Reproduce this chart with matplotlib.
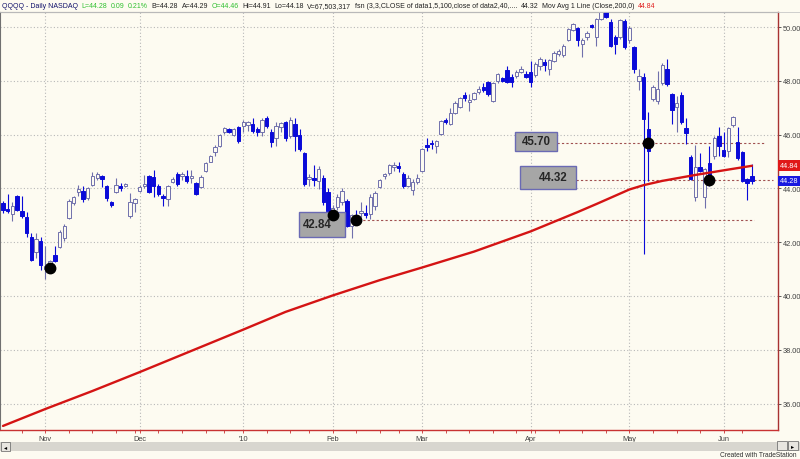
import matplotlib
matplotlib.use('Agg')
import matplotlib.pyplot as plt
import numpy as np
import pandas as pd
from matplotlib.patches import Rectangle

plt.rcParams['font.family'] = ['Liberation Sans', 'DejaVu Sans']

# ---------------- data ----------------
holidays = ['2009-11-26', '2009-12-25', '2010-01-01', '2010-01-18',
            '2010-02-15', '2010-04-02', '2010-05-31']
dates = [d for d in pd.bdate_range('2009-10-20', '2010-06-09')
         if d.strftime('%Y-%m-%d') not in holidays]

ohlc = [
    (43.45, 43.55, 43.10, 43.20), (43.25, 43.80, 43.10, 43.15), (43.05, 43.50, 42.80, 43.35),
    (43.72, 43.75, 43.15, 43.20), (43.15, 43.72, 42.90, 42.97), (42.95, 43.12, 42.20, 42.35),
    (42.20, 42.33, 41.30, 41.34), (41.63, 42.33, 41.40, 42.12), (42.05, 42.20, 40.95, 41.15),
    (41.00, 41.86, 40.63, 41.12), (41.10, 41.35, 40.95, 41.30), (41.52, 41.86, 41.25, 41.30),
    (41.82, 42.45, 41.78, 42.38), (42.15, 42.67, 42.05, 42.60), (42.90, 43.60, 42.85, 43.53),
    (43.46, 43.72, 43.40, 43.68), (43.87, 44.13, 43.72, 43.98), (43.90, 44.10, 43.50, 43.60),
    (43.64, 44.05, 43.58, 44.00), (44.13, 44.60, 44.10, 44.46), (44.38, 44.60, 44.30, 44.55),
    (44.45, 44.50, 44.05, 44.35), (44.10, 44.12, 43.55, 43.65), (43.48, 43.55, 43.30, 43.40),
    (43.87, 44.40, 43.82, 44.13), (44.10, 44.20, 43.90, 44.02), (44.10, 44.20, 44.05, 44.15),
    (42.97, 43.83, 42.90, 43.50), (43.46, 43.65, 43.12, 43.60), (43.90, 44.12, 43.85, 44.05),
    (44.10, 44.50, 44.00, 44.13), (44.46, 44.50, 43.82, 43.87), (44.42, 44.68, 43.68, 44.09),
    (44.09, 44.15, 43.70, 43.80), (43.72, 43.78, 43.35, 43.65), (43.60, 44.12, 43.35, 44.09),
    (44.24, 44.42, 44.20, 44.35), (44.53, 44.62, 44.10, 44.17), (44.46, 44.60, 44.30, 44.53),
    (44.46, 44.68, 44.20, 44.28), (44.40, 44.68, 44.20, 44.45), (44.20, 44.25, 43.75, 43.80),
    (44.05, 44.50, 44.00, 44.42), (44.65, 45.00, 44.60, 44.94), (45.00, 45.25, 44.98, 45.20),
    (45.35, 45.60, 45.20, 45.54), (45.58, 46.02, 45.55, 45.98), (46.10, 46.30, 46.02, 46.25),
    (46.20, 46.25, 46.05, 46.10), (46.00, 46.25, 45.95, 46.20), (46.28, 46.32, 45.70, 45.76),
    (46.32, 46.55, 46.10, 46.47), (46.35, 46.52, 46.15, 46.45), (46.40, 46.60, 46.05, 46.13),
    (46.20, 46.28, 45.95, 46.10), (46.10, 46.60, 45.95, 46.54), (46.62, 46.70, 46.25, 46.32),
    (46.10, 46.20, 45.55, 45.72), (45.87, 46.47, 45.58, 46.32), (46.28, 46.47, 46.10, 46.43),
    (46.47, 46.50, 45.76, 45.87), (45.95, 46.65, 45.87, 46.54), (46.40, 46.62, 45.39, 45.95),
    (46.00, 46.20, 45.40, 45.46), (45.30, 45.35, 44.10, 44.15), (44.35, 44.53, 44.09, 44.42),
    (44.40, 44.87, 44.09, 44.32), (44.28, 44.83, 43.98, 44.72), (44.40, 44.50, 43.40, 43.50),
    (43.85, 44.00, 42.95, 43.17), (43.12, 43.40, 43.00, 43.27), (43.31, 43.80, 43.20, 43.68),
    (43.50, 44.00, 43.40, 43.90), (43.55, 43.60, 42.55, 42.60), (42.60, 43.05, 42.16, 43.00),
    (42.92, 43.20, 42.75, 42.82), (43.08, 43.50, 42.95, 43.15), (43.10, 43.40, 42.90, 43.00),
    (43.05, 43.80, 42.85, 43.68), (43.35, 43.90, 43.20, 43.83), (44.05, 44.35, 44.00, 44.30),
    (44.46, 44.57, 44.35, 44.53), (44.57, 44.90, 44.50, 44.87), (44.80, 45.00, 44.65, 44.87),
    (44.85, 45.00, 44.60, 44.75), (44.53, 44.60, 44.00, 44.09), (44.10, 44.50, 44.05, 44.40),
    (43.95, 44.35, 43.75, 44.25), (44.25, 44.55, 44.15, 44.40), (44.65, 45.50, 44.60, 45.46),
    (45.60, 45.87, 45.40, 45.54), (45.70, 45.80, 45.45, 45.65), (45.58, 45.80, 45.30, 45.76),
    (46.02, 46.55, 45.98, 46.50), (46.52, 46.60, 46.40, 46.48), (46.40, 47.00, 46.35, 46.80),
    (46.80, 47.25, 46.75, 47.17), (47.03, 47.40, 46.98, 47.36), (47.47, 47.60, 47.25, 47.36),
    (47.22, 47.50, 46.88, 47.27), (47.32, 47.60, 47.28, 47.55), (47.58, 47.82, 47.50, 47.70),
    (47.77, 47.92, 47.58, 47.66), (47.95, 48.00, 47.45, 47.50), (47.25, 47.95, 47.20, 47.92),
    (48.00, 48.30, 47.92, 48.25), (48.10, 48.15, 47.95, 48.00), (48.40, 48.55, 47.90, 47.95),
    (48.14, 48.25, 47.77, 47.95), (48.18, 48.40, 48.10, 48.33), (48.33, 48.55, 48.28, 48.44),
    (48.25, 48.35, 48.10, 48.14), (48.33, 48.74, 47.77, 47.96), (48.22, 48.70, 48.15, 48.62),
    (48.55, 48.90, 48.40, 48.81), (48.70, 48.80, 48.35, 48.60), (48.44, 48.82, 48.20, 48.77),
    (48.74, 49.10, 48.70, 49.03), (49.00, 49.20, 48.92, 49.10), (48.96, 49.35, 48.90, 49.30),
    (49.52, 49.98, 49.48, 49.93), (49.90, 50.15, 49.85, 50.10), (49.96, 50.00, 49.30, 49.52),
    (49.37, 49.60, 48.90, 49.52), (49.63, 49.85, 49.50, 49.78), (50.07, 50.12, 49.95, 50.00),
    (49.63, 50.35, 49.30, 50.30), (50.30, 50.60, 50.25, 50.56), (50.56, 50.60, 50.35, 50.37),
    (50.20, 50.30, 49.25, 49.30), (49.63, 49.70, 49.00, 49.37), (49.63, 50.30, 49.55, 50.26),
    (50.22, 50.30, 49.20, 49.26), (49.50, 50.05, 49.40, 49.96), (49.25, 49.30, 48.30, 48.45),
    (48.00, 48.44, 47.66, 48.18), (48.14, 48.30, 41.55, 46.58), (46.20, 46.84, 44.27, 45.39),
    (47.32, 47.85, 47.25, 47.77), (47.25, 48.36, 47.15, 47.70), (47.90, 48.66, 47.85, 48.60),
    (48.44, 48.81, 47.80, 47.88), (47.50, 47.55, 46.40, 46.90), (47.03, 47.43, 46.10, 47.17),
    (47.47, 47.60, 46.40, 46.47), (46.25, 46.62, 45.65, 46.06), (45.17, 45.25, 44.30, 44.35),
    (43.68, 45.61, 43.53, 44.80), (44.80, 45.32, 44.60, 44.65), (43.68, 44.75, 43.27, 44.72),
    (44.94, 45.58, 44.10, 44.50), (45.20, 45.95, 45.10, 45.87), (45.95, 46.28, 45.20, 45.58),
    (45.43, 46.10, 45.15, 45.20), (45.40, 46.30, 45.17, 46.25), (46.36, 46.70, 46.30, 46.65),
    (45.72, 46.28, 45.05, 45.13), (45.35, 45.40, 44.25, 44.28), (44.35, 44.40, 43.57, 44.19),
    (44.46, 44.91, 44.18, 44.28),
]
opens = [r[0] for r in ohlc]
highs = [r[1] for r in ohlc]
lows = [r[2] for r in ohlc]
closes = [r[3] for r in ohlc]

ma_idx = [0, 9, 19, 29, 40, 51, 60, 70, 80, 89, 100, 112, 122, 126, 133, 136, 140, 147, 154, 159]
ma_vals = [35.17, 35.80, 36.47, 37.17, 37.96, 38.75, 39.41, 40.02, 40.59, 41.06,
           41.65, 42.40, 43.12, 43.42, 43.96, 44.12, 44.28, 44.50, 44.70, 44.84]

dot_idx = [10, 70, 75, 137, 150]
dot_vals = [41.04, 43.00, 42.84, 45.70, 44.32]

levels = [42.84, 45.70, 44.32]
level_labels = ['42.84', '45.70', '44.32']
yticks = [36, 38, 40, 42, 44, 46, 48, 50]

# ---------------- figure ----------------
W, H = 800, 460
BG = '#fdfbf1'
fig = plt.figure(figsize=(8, 4.6), dpi=100, facecolor=BG)

PX_PER_DAY = 4.71
X0 = 3.0
def px2i(px):
    return (px - X0) / PX_PER_DAY
def py2p(py):
    return 50 - (py - 28) / 26.9

ax_top, ax_bot, ax_right = 13, 431, 778
ax = fig.add_axes([0, 1 - ax_bot / H, ax_right / W, (ax_bot - ax_top) / H])
ax.set_facecolor(BG)
ax.set_xlim(px2i(0), px2i(ax_right))
ax.set_ylim(py2p(ax_bot), py2p(ax_top))

# grid
month_idx, month_lab = [], []
for k in range(1, len(dates)):
    if dates[k].month != dates[k - 1].month:
        month_idx.append(k)
        month_lab.append("'10" if dates[k].month == 1 else dates[k].strftime('%b'))
week_idx = [k for k in range(1, len(dates)) if dates[k].weekday() < dates[k - 1].weekday()]

for m in month_idx:
    ax.axvline(m, color='#b8b8b8', lw=0.8, ls=(0, (1, 2)), zorder=0)
for yv in yticks:
    ax.axhline(yv, color='#b8b8b8', lw=0.8, ls=(0, (1, 2)), zorder=0)

# candles
bw = 0.72
up_edge = '#7070ac'
dn_col = '#0a0ad8'
for k in range(len(opens)):
    o, h, l, c = opens[k], highs[k], lows[k], closes[k]
    up = c >= o
    col = up_edge if up else dn_col
    ax.vlines(k, l, h, color=col, lw=0.8, zorder=2)
    bot = min(o, c)
    hgt = max(abs(c - o), 0.05)
    ax.add_patch(Rectangle((k - bw / 2, bot), bw, hgt,
                           facecolor=BG if up else dn_col, edgecolor=col,
                           lw=0.7, zorder=3))

# moving average
ax.plot(ma_idx, ma_vals, color='#d41414', lw=1.7, zorder=4,
        solid_capstyle='round', solid_joinstyle='round')

# level lines
lvl_ranges = [(345, 754), (557, 765), (576, 773)]
for lv, (a, b) in zip(levels, lvl_ranges):
    ax.hlines(lv, px2i(a), px2i(b), color='#a05050', lw=0.8, ls=(0, (2, 2)), zorder=1)

# annotation boxes
boxes = [(299, 345, 213, 238, 317), (515, 557, 133, 152, 536), (520, 576, 167, 190, 553)]
for (x1, x2, y1, y2, tx), lab in zip(boxes, level_labels):
    ax.add_patch(Rectangle((px2i(x1), py2p(y2)), px2i(x2) - px2i(x1), py2p(y1) - py2p(y2),
                           facecolor='#a6a6a6', edgecolor='#6a6ab4', lw=1.0, zorder=5))
    ax.text(px2i(tx), py2p((y1 + y2) / 2), lab, ha='center', va='center',
            fontsize=8.3, fontweight='bold', color='#262626', zorder=6)

# dots
ax.plot(dot_idx, dot_vals, 'o', color='black', ms=7.5, zorder=7)

# axes styling
for s in ['top', 'left']:
    ax.spines[s].set_color('#707070')
    ax.spines[s].set_linewidth(0.8)
ax.spines['right'].set_color('#a83232')
ax.spines['bottom'].set_color('#c83232')
ax.spines['right'].set_linewidth(1.0)
ax.spines['bottom'].set_linewidth(1.0)

ax.yaxis.tick_right()
ax.set_yticks(yticks)
ax.set_yticklabels([f'{v:.2f}' for v in yticks])
ax.tick_params(axis='y', labelsize=5.3, colors='#404040', length=2, width=0.6, pad=1.5)
ax.set_xticks(month_idx)
ax.set_xticklabels(month_lab)
ax.set_xticks(week_idx, minor=True)
ax.tick_params(axis='x', which='major', labelsize=5.3, labelcolor='#404040',
               color='#c83232', length=2, width=0.6, pad=1.5)
ax.tick_params(axis='x', which='minor', color='#c83232', length=2, width=0.6)

# last value tags
yt = ax.get_yaxis_transform()
ax.text(1.003, ma_vals[-1], f'{ma_vals[-1]:.2f}', transform=yt, ha='left', va='center',
        fontsize=5.3, color='white', zorder=8, clip_on=False,
        bbox=dict(boxstyle='square,pad=0.25', fc='#e01818', ec='none'))
ax.text(1.003, closes[-1], f'{closes[-1]:.2f}', transform=yt, ha='left', va='center',
        fontsize=5.3, color='white', zorder=8, clip_on=False,
        bbox=dict(boxstyle='square,pad=0.25', fc='#1818e0', ec='none'))

# header
navy, green, dark, red = '#10106a', '#30c030', '#202020', '#e02020'
segs = [("QQQQ - Daily NASDAQ", navy), ("L=44.28", green), ("0.09", green), ("0.21%", green),
        ("B=44.28", dark), ("A=44.29", dark), ("O=44.46", green), ("Hi=44.91", dark),
        ("Lo=44.18", dark), ("V=67,503,317", dark),
        ("fsn (3,3,CLOSE of data1,5,100,close of data2,40,....", dark), ("44.32", dark),
        ("Mov Avg 1 Line (Close,200,0)", dark), ("44.84", red)]
renderer = fig.canvas.get_renderer()
xp = 2.0
for txt, col in segs:
    t = fig.text(xp / W, 1 - 6.5 / H, txt, color=col, fontsize=5.0, ha='left', va='center')
    bb = t.get_window_extent(renderer)
    xp = bb.x1 + 3.5

# header separator
fig.add_artist(plt.Line2D([0, 1], [1 - 12.5 / H, 1 - 12.5 / H], color='#c8c8c8', lw=0.6))

# scrollbar
fig.add_artist(Rectangle((0, 1 - 452 / H), 1, 9 / H, transform=fig.transFigure,
                         facecolor='#d8d6cf', edgecolor='none'))
fig.add_artist(Rectangle((1 / W, 1 - 452 / H), 9 / W, 9 / H, transform=fig.transFigure,
                         facecolor='#e8e6e0', edgecolor='#606060', lw=0.5))
fig.text(5.5 / W, 1 - 447.5 / H, '◂', fontsize=4.5, ha='center', va='center', color='black')
fig.add_artist(Rectangle((777 / W, 1 - 451 / H), 10 / W, 9 / H, transform=fig.transFigure,
                         facecolor='#e8e6e0', edgecolor='#606060', lw=0.5))
fig.add_artist(Rectangle((788 / W, 1 - 451 / H), 10 / W, 9 / H, transform=fig.transFigure,
                         facecolor='#e8e6e0', edgecolor='#606060', lw=0.5))
fig.text(793 / W, 1 - 446.5 / H, '▸', fontsize=4.5, ha='center', va='center', color='black')
fig.text(797 / W, 1 - 455.5 / H, 'Created with TradeStation', fontsize=4.8,
         ha='right', va='center', color='#303030')

fig.savefig('out.png', dpi=100, facecolor=BG)
